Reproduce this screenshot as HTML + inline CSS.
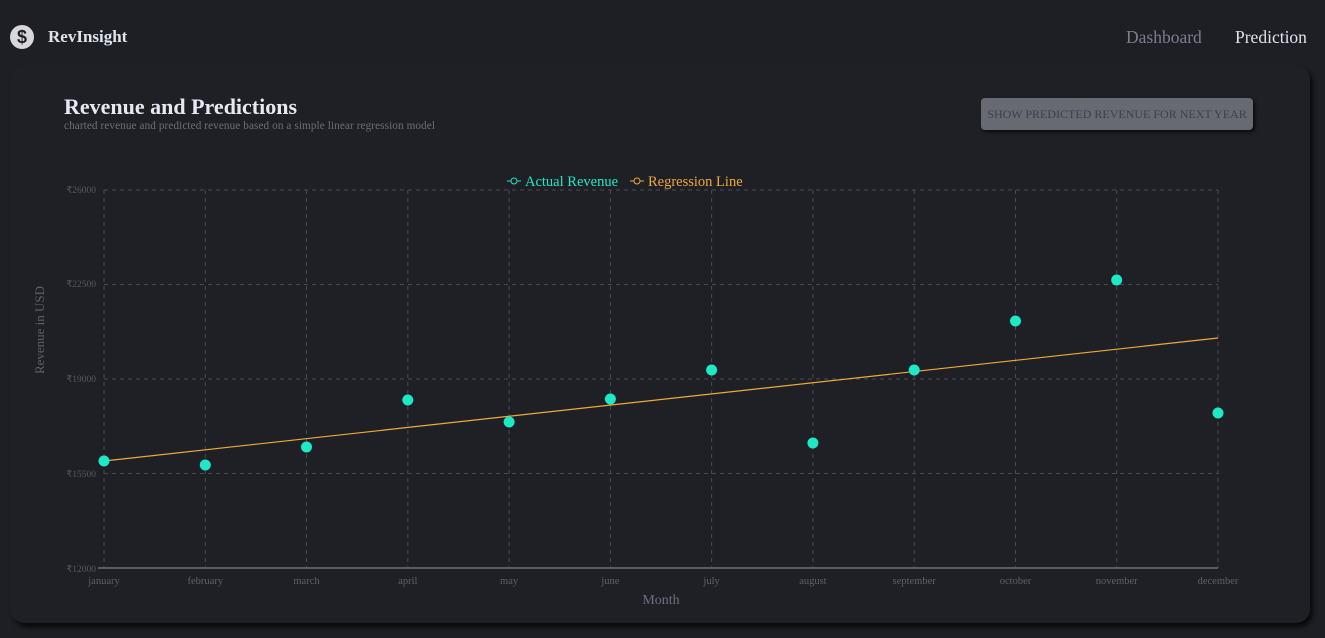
<!DOCTYPE html>
<html><head><style>
body{margin:0;width:1325px;height:638px;background:#1e1f24;font-family:"Liberation Serif",serif;overflow:hidden;position:relative}
.logo{position:absolute;left:10px;top:25px;width:24px;height:24px;border-radius:50%;background:#d8d8dc;color:#1e1f24;font:bold 18px "Liberation Sans",sans-serif;text-align:center;line-height:24px}
.brand{position:absolute;left:48px;top:27px;color:#dfe3ee;font-weight:bold;font-size:17px}
.nav{position:absolute;top:27px;font-size:17.5px}
.card{position:absolute;left:10px;top:65px;width:1300px;height:558px;background:#1f2025;border-radius:14px;box-shadow:3px 4px 4px #0a0a0c}
h1{position:absolute;left:64px;top:94px;margin:0;color:#e6e9f2;font-size:22px}
.sub{position:absolute;left:64px;top:120px;color:#6b6e7a;font-size:11.2px;letter-spacing:0.1px}
.btn{position:absolute;left:981px;top:98px;width:272px;height:32px;background:#686a71;border-radius:4px;color:#3a4052;font-size:12px;text-align:center;line-height:32px;box-shadow:2px 2px 3px #0a0a0c}
</style></head><body>
<div class="logo">$</div><div class="brand">RevInsight</div>
<div class="nav" style="left:1126px;color:#7b7f8c">Dashboard</div>
<div class="nav" style="left:1235px;color:#dfe3ee">Prediction</div>
<div class="card"></div>
<h1>Revenue and Predictions</h1>
<div class="sub">charted revenue and predicted revenue based on a simple linear regression model</div>
<div class="btn">SHOW PREDICTED REVENUE FOR NEXT YEAR</div>
<svg width="1325" height="638" style="position:absolute;left:0;top:0" font-family="Liberation Serif,serif">
<g stroke="#4a4c53" stroke-dasharray="4 4">
<line x1="104" x2="1218" y1="190" y2="190"/><line x1="104" x2="1218" y1="284.5" y2="284.5"/><line x1="104" x2="1218" y1="379" y2="379"/><line x1="104" x2="1218" y1="473.5" y2="473.5"/>
<line x1="104" x2="104" y1="190" y2="568"/><line x1="205.3" x2="205.3" y1="190" y2="568"/><line x1="306.5" x2="306.5" y1="190" y2="568"/><line x1="407.8" x2="407.8" y1="190" y2="568"/><line x1="509.1" x2="509.1" y1="190" y2="568"/><line x1="610.4" x2="610.4" y1="190" y2="568"/><line x1="711.6" x2="711.6" y1="190" y2="568"/><line x1="812.9" x2="812.9" y1="190" y2="568"/><line x1="914.2" x2="914.2" y1="190" y2="568"/><line x1="1015.5" x2="1015.5" y1="190" y2="568"/><line x1="1116.7" x2="1116.7" y1="190" y2="568"/><line x1="1218" x2="1218" y1="190" y2="568"/>
</g>
<line x1="98" x2="1218" y1="568" y2="568" stroke="#5a5c63" stroke-width="2"/>
<g fill="#55585f" font-size="9.5" text-anchor="end">
<text x="96" y="193">₹26000</text><text x="96" y="287">₹22500</text><text x="96" y="382">₹19000</text><text x="96" y="477">₹15500</text><text x="96" y="572">₹12000</text></g>
<g fill="#5d6069" font-size="10.5" text-anchor="middle">
<text x="104" y="584">january</text><text x="205.3" y="584">february</text><text x="306.5" y="584">march</text><text x="407.8" y="584">april</text><text x="509.1" y="584">may</text><text x="610.4" y="584">june</text><text x="711.6" y="584">july</text><text x="812.9" y="584">august</text><text x="914.2" y="584">september</text><text x="1015.5" y="584">october</text><text x="1116.7" y="584">november</text><text x="1218" y="584">december</text></g>
<text x="661" y="604" fill="#6b7080" font-size="14" text-anchor="middle">Month</text>
<text transform="translate(44,330) rotate(-90)" fill="#5d6069" font-size="13" text-anchor="middle">Revenue in USD</text>
<line x1="104" y1="461" x2="1218" y2="338" stroke="#f0a93b" stroke-width="1.2"/>
<g fill="#1de9c6">
<circle cx="104" cy="461" r="5.5"/><circle cx="205.3" cy="465" r="5.5"/><circle cx="306.5" cy="447" r="5.5"/><circle cx="407.8" cy="400" r="5.5"/><circle cx="509.1" cy="422" r="5.5"/><circle cx="610.4" cy="399" r="5.5"/><circle cx="711.6" cy="370" r="5.5"/><circle cx="812.9" cy="443" r="5.5"/><circle cx="914.2" cy="370" r="5.5"/><circle cx="1015.5" cy="321" r="5.5"/><circle cx="1116.7" cy="280" r="5.5"/><circle cx="1218" cy="413" r="5.5"/></g>
<line x1="507" x2="521" y1="181" y2="181" stroke="#1de9c6"/><circle cx="514" cy="181" r="3" fill="#1f2025" stroke="#1de9c6"/>
<text x="525" y="186" fill="#1de9c6" font-size="14.5">Actual Revenue</text>
<line x1="630" x2="644" y1="181" y2="181" stroke="#f0a93b"/><circle cx="637" cy="181" r="3" fill="#1f2025" stroke="#f0a93b"/>
<text x="648" y="186" fill="#f0a93b" font-size="14.5">Regression Line</text>
</svg>
</body></html>
